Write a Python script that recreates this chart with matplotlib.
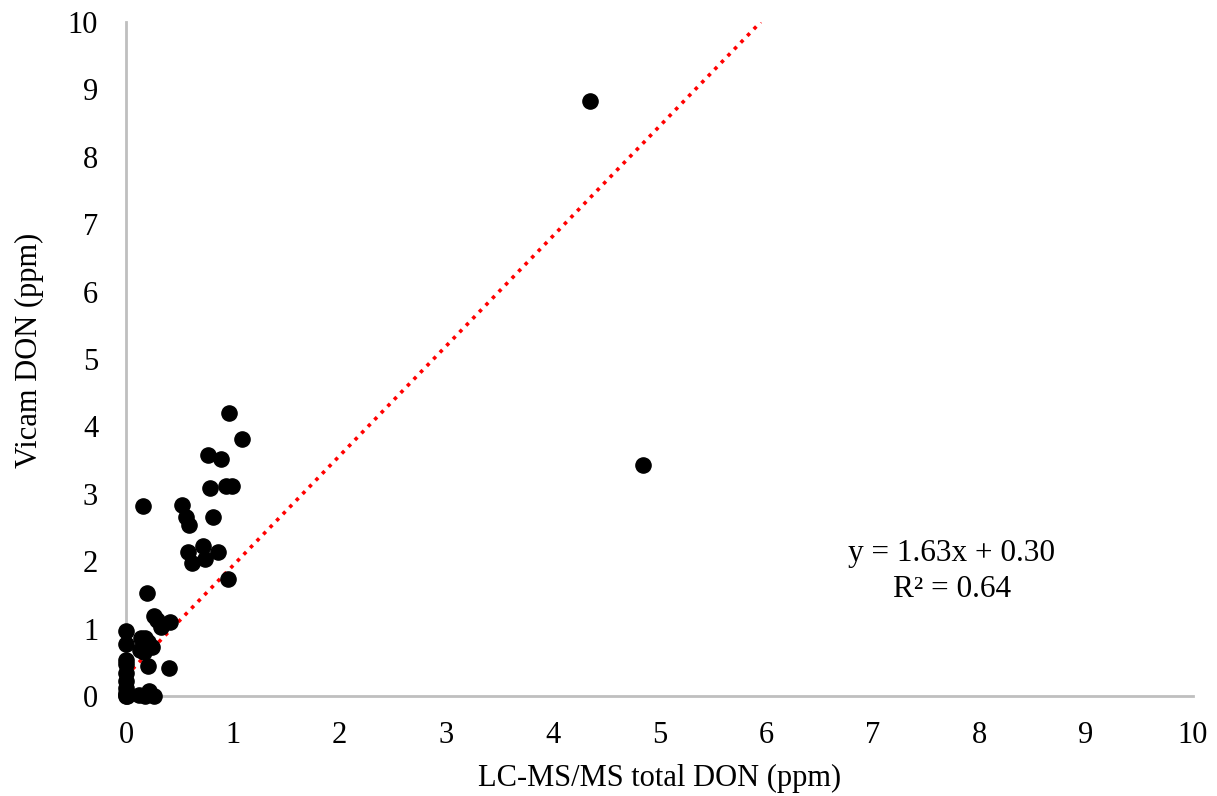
import numpy as np
import matplotlib.pyplot as plt

plt.rcParams['font.family'] = ['Liberation Serif', 'DejaVu Serif']

# LC-MS/MS total DON vs Vicam DON (ppm)
lcms_don = [4.35, 4.85,
            0.97, 1.09, 0.77, 0.89, 0.79, 0.94, 0.99, 0.16, 0.53, 0.56,
            0.59, 0.82, 0.58, 0.72, 0.86, 0.62, 0.74, 0.96, 0.20,
            0.26, 0.29, 0.33, 0.41, 0.0, 0.0, 0.14, 0.18, 0.21, 0.24, 0.13,
            0.17, 0.21, 0.40,
            0.0, 0.0, 0.0, 0.0, 0.0, 0.0, 0.0, 0.0, 0.01, 0.12, 0.18, 0.22, 0.26]
vicam_don = [8.83, 3.43,
             4.20, 3.81, 3.57, 3.51, 3.09, 3.12, 3.11, 2.82, 2.83, 2.65,
             2.53, 2.65, 2.14, 2.23, 2.13, 1.97, 2.03, 1.74, 1.53,
             1.18, 1.13, 1.03, 1.10, 0.97, 0.77, 0.86, 0.86, 0.80, 0.73, 0.68,
             0.65, 0.45, 0.41,
             0.53, 0.47, 0.34, 0.23, 0.12, 0.05, 0.02, 0.0, 0.0, 0.02, 0.0, 0.07, 0.0]

slope, intercept = 1.63, 0.30
r_squared = 0.64
x_ticks = np.arange(0, 11, 1)
y_ticks = np.arange(0, 11, 1)

fig = plt.figure(figsize=(12.17, 7.96), dpi=100)
ax = fig.add_axes([0.1035, 0.1256, 0.8765, 0.8468])

ax.scatter(lcms_don, vicam_don, s=120, color='black', zorder=3, clip_on=False)

# linear trend line, drawn up to the top of the y range
x_end = (10 - intercept) / slope
xs = np.array([0, x_end])
ax.plot(xs, slope * xs + intercept, color='red', linestyle=(0, (1, 1.6)),
        linewidth=2.6, zorder=2)

ax.set_xlim(0, 10)
ax.set_ylim(0, 10)
ax.set_xticks(x_ticks)
ax.set_yticks(y_ticks)
ax.tick_params(length=0, labelsize=22)
ax.tick_params(axis='y', pad=20)
ax.tick_params(axis='x', pad=18)
for side in ['top', 'right']:
    ax.spines[side].set_visible(False)
for side in ['left', 'bottom']:
    ax.spines[side].set_color('#bfbfbf')
    ax.spines[side].set_linewidth(2)

ax.set_xlabel('LC-MS/MS total DON (ppm)', fontsize=22, labelpad=10)
ax.set_ylabel('Vicam DON (ppm)', fontsize=22, labelpad=17)
ax.yaxis.label.set_y(0.513)

ax.text(7.74, 1.85, f'y = {slope:.2f}x + {intercept:.2f}\nR² = {r_squared:.2f}',
        ha='center', va='center', fontsize=22.5, linespacing=1.3)

fig.savefig('out.png', dpi=100)
